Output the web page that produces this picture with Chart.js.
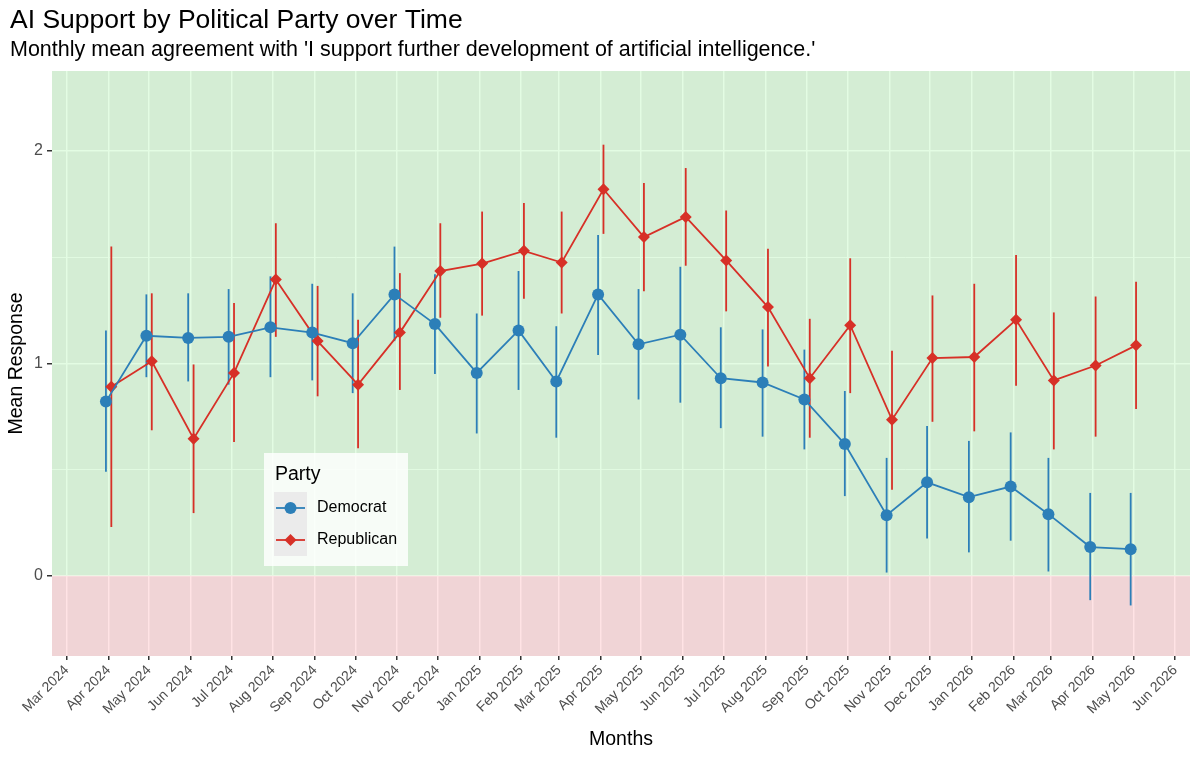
<!DOCTYPE html>
<html><head><meta charset="utf-8">
<script src="https://cdn.jsdelivr.net/npm/chart.js@4.4.1/dist/chart.umd.min.js"></script>
<style>html,body{margin:0;padding:0;background:#fff;}#wrap{width:1200px;height:759px;position:relative;}</style>
</head><body><div id="wrap"><canvas id="c" width="1200" height="759"></canvas></div>
<script>
// ---- data ----
const months = ["2024-04","2024-05","2024-06","2024-07","2024-08","2024-09","2024-10","2024-11","2024-12",
  "2025-01","2025-02","2025-03","2025-04","2025-05","2025-06","2025-07","2025-08","2025-09","2025-10","2025-11","2025-12",
  "2026-01","2026-02","2026-03","2026-04","2026-05"];
const tickMonths = ["2024-03","2024-04","2024-05","2024-06","2024-07","2024-08","2024-09","2024-10","2024-11","2024-12",
  "2025-01","2025-02","2025-03","2025-04","2025-05","2025-06","2025-07","2025-08","2025-09","2025-10","2025-11","2025-12",
  "2026-01","2026-02","2026-03","2026-04","2026-05","2026-06"];
const demMean = [0.82,1.13,1.12,1.125,1.17,1.145,1.095,1.325,1.185,0.955,1.155,0.915,1.325,1.09,1.135,0.93,0.91,0.83,0.62,0.285,0.44,0.37,0.42,0.29,0.135,0.125];
const demLo   = [0.49,0.935,0.915,0.90,0.935,0.92,0.86,1.105,0.95,0.67,0.875,0.65,1.04,0.83,0.815,0.695,0.655,0.595,0.375,0.015,0.175,0.11,0.165,0.02,-0.115,-0.14];
const demHi   = [1.155,1.325,1.33,1.35,1.41,1.375,1.33,1.55,1.42,1.235,1.435,1.175,1.605,1.35,1.455,1.17,1.16,1.065,0.87,0.555,0.705,0.635,0.675,0.555,0.39,0.39];
const repMean = [0.89,1.01,0.645,0.955,1.395,1.105,0.90,1.145,1.435,1.47,1.53,1.475,1.82,1.595,1.69,1.485,1.265,0.93,1.18,0.735,1.025,1.03,1.205,0.92,0.99,1.085];
const repLo   = [0.23,0.685,0.295,0.63,1.125,0.845,0.60,0.875,1.215,1.225,1.305,1.235,1.61,1.34,1.46,1.245,0.985,0.65,0.86,0.405,0.725,0.68,0.895,0.595,0.655,0.785];
const repHi   = [1.55,1.33,0.995,1.285,1.66,1.365,1.205,1.425,1.66,1.715,1.755,1.715,2.03,1.85,1.92,1.72,1.54,1.21,1.495,1.06,1.32,1.375,1.51,1.24,1.315,1.385];
const yTicks = [0,0.5,1,1.5,2];
const monthNames = ["Jan","Feb","Mar","Apr","May","Jun","Jul","Aug","Sep","Oct","Nov","Dec"];
const seriesNames = ["Democrat","Republican"];

// ---- helpers ----
const BLUE = "#2c7fb8", RED = "#d73027";
const FONT = "'Liberation Sans', Arial, sans-serif";
const base = Date.UTC(2024,2,1);
function dayOf(ym){const [y,m]=ym.split("-").map(Number);return (Date.UTC(y,m-1,1)-base)/86400000;}
function labelOf(ym){const [y,m]=ym.split("-").map(Number);return monthNames[m-1]+" "+y;}
const DODGE = 2;
const tickDays = tickMonths.map(dayOf);
const tickLabelMap = {}; tickMonths.forEach(m=>tickLabelMap[dayOf(m)]=labelOf(m));
const demPts = months.map((m,i)=>({x:dayOf(m)-DODGE,y:demMean[i],lo:demLo[i],hi:demHi[i]}));
const repPts = months.map((m,i)=>({x:dayOf(m)+DODGE,y:repMean[i],lo:repLo[i],hi:repHi[i]}));

const panelPlugin = {
  id:'panel',
  beforeDraw(chart){
    const {ctx,chartArea:a}=chart;
    ctx.save(); ctx.fillStyle="#ebebeb"; ctx.fillRect(a.left,a.top,a.right-a.left,a.bottom-a.top); ctx.restore();
  },
  beforeDatasetsDraw(chart){
    const {ctx,chartArea:a,scales}=chart;
    const y0 = scales.y.getPixelForValue(0);
    ctx.save();
    ctx.fillStyle="rgba(143,243,143,0.25)"; ctx.fillRect(a.left,a.top,a.right-a.left,y0-a.top);
    ctx.fillStyle="rgba(255,143,151,0.25)"; ctx.fillRect(a.left,y0,a.right-a.left,a.bottom-y0);
    // error bars
    chart.data.datasets.forEach(ds=>{
      ctx.strokeStyle=ds.borderColor; ctx.lineWidth=1.8;
      ds.data.forEach(p=>{
        const x=scales.x.getPixelForValue(p.x);
        ctx.beginPath(); ctx.moveTo(x,scales.y.getPixelForValue(p.lo)); ctx.lineTo(x,scales.y.getPixelForValue(p.hi)); ctx.stroke();
      });
    });
    ctx.restore();
  },
  afterDraw(chart){
    const {ctx}=chart;
    ctx.save();
    ctx.fillStyle="#000"; ctx.textBaseline="alphabetic"; ctx.textAlign="left";
    ctx.font="26.5px "+FONT; ctx.fillText("AI Support by Political Party over Time",10,28);
    ctx.font="21.5px "+FONT; ctx.fillText("Monthly mean agreement with 'I support further development of artificial intelligence.'",10,56);
    // legend
    const lx=264, ly=453;
    ctx.fillStyle="rgba(255,255,255,0.8)"; ctx.fillRect(lx,ly,144,113);
    ctx.fillStyle="#000"; ctx.font="19.5px "+FONT; ctx.fillText("Party",lx+11,ly+27);
    ctx.fillStyle="#ebebeb"; ctx.fillRect(lx+10,ly+39,33,64);
    const styles=['circle','rectRot'];
    chart.data.datasets.forEach((ds,i)=>{
      const cy=ly+55+i*32;
      ctx.strokeStyle=ds.borderColor; ctx.lineWidth=1.8;
      ctx.beginPath(); ctx.moveTo(lx+12,cy); ctx.lineTo(lx+41,cy); ctx.stroke();
      ctx.fillStyle=ds.borderColor;
      Chart.helpers.drawPoint(ctx,{pointStyle:styles[i],radius:6,borderWidth:0},lx+26.5,cy);
      ctx.fillStyle="#000"; ctx.font="16px "+FONT; ctx.textBaseline="middle";
      ctx.fillText(seriesNames[i],lx+53,cy);
      ctx.textBaseline="alphabetic";
    });
    ctx.restore();
  }
};

new Chart(document.getElementById('c'),{
  type:'line',
  data:{datasets:[
    {label:seriesNames[0],data:demPts,borderColor:BLUE,backgroundColor:BLUE,borderWidth:1.8,pointStyle:'circle',pointRadius:6,pointBorderWidth:0,pointBackgroundColor:BLUE,tension:0},
    {label:seriesNames[1],data:repPts,borderColor:RED,backgroundColor:RED,borderWidth:1.8,pointStyle:'rectRot',pointRadius:6,pointBorderWidth:0,pointBackgroundColor:RED,tension:0}
  ]},
  options:{
    responsive:false,animation:false,devicePixelRatio:1,
    layout:{padding:{top:71,right:10,left:0,bottom:0}},
    plugins:{legend:{display:false},tooltip:{enabled:false},title:{display:false}},
    scales:{
      x:{type:'linear',min:tickDays[0]-11,max:tickDays[tickDays.length-1]+11,
        afterBuildTicks(s){s.ticks=tickDays.map(v=>({value:v}));},
        afterFit(s){s.height=103;},
        ticks:{autoSkip:false,maxRotation:45,minRotation:45,color:'#4d4d4d',font:{family:FONT,size:14},padding:2,
          callback:(v)=>tickLabelMap[v]||''},
        grid:{color:'#ffffff',lineWidth:1.5,tickColor:'#333333',tickLength:4},
        border:{display:false},
        title:{display:true,text:'Months',color:'#000',font:{family:FONT,size:19.5},padding:{top:0,bottom:8}}
      },
      y:{type:'linear',min:-0.378,max:2.377,
        afterBuildTicks(s){s.ticks=yTicks.map(v=>({value:v}));},
        afterFit(s){s.width=52;},
        ticks:{color:'#4d4d4d',font:{family:FONT,size:16},padding:4,callback:(v)=>Number.isInteger(v)?String(v):''},
        grid:{color:'#ffffff',lineWidth:(c)=>Number.isInteger(c.tick&&c.tick.value)?1.5:0.9,
          tickColor:(c)=>Number.isInteger(c.tick&&c.tick.value)?'#333333':'rgba(0,0,0,0)',tickLength:5},
        border:{display:false},
        title:{display:true,text:'Mean Response',color:'#000',font:{family:FONT,size:19.5},padding:{top:5,bottom:0}}
      }
    }
  },
  plugins:[panelPlugin]
});
</script></body></html>
